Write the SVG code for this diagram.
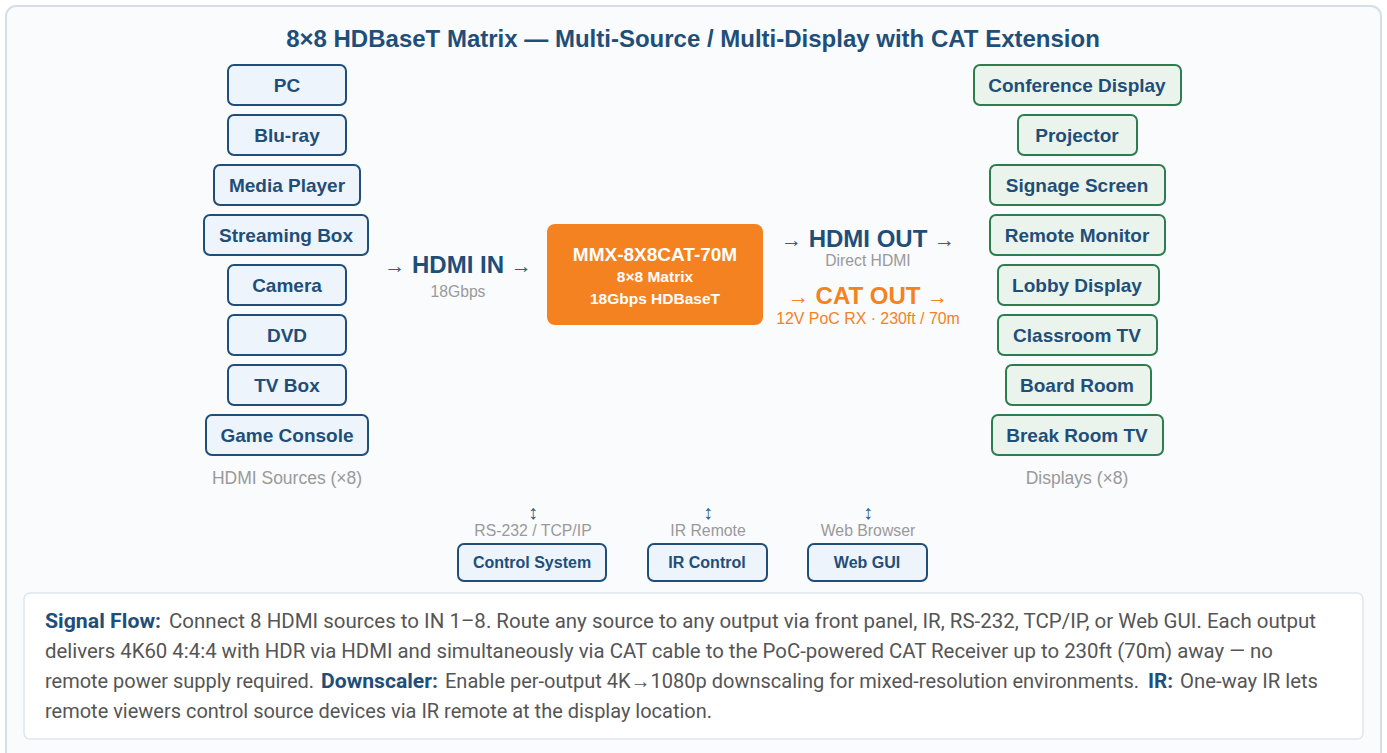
<svg xmlns="http://www.w3.org/2000/svg" width="1387" height="753" viewBox="0 0 1387 753">
<style>
.t{font-family:"Liberation Sans",Arial,sans-serif}
.src rect{fill:#eef4fb;stroke:#1f4e79;stroke-width:2}
.dst rect{fill:#eaf4ec;stroke:#2e7d4f;stroke-width:2}
.ctl rect{fill:#eef4fb;stroke:#1f4e79;stroke-width:2}
.nl{font-family:"Liberation Sans",Arial,sans-serif;font-weight:bold;font-size:19px;fill:#1f4e79;text-anchor:middle}
.cl{font-family:"Liberation Sans",Arial,sans-serif;font-weight:bold;font-size:16px;fill:#1f4e79;text-anchor:middle}
.gray{font-family:"Liberation Sans",Arial,sans-serif;fill:#999;text-anchor:middle}
.arr{font-family:"Liberation Sans",Arial,sans-serif;fill:#2f5f8c;text-anchor:middle}
.big{font-family:"Liberation Sans",Arial,sans-serif;font-size:24px;font-weight:bold;text-anchor:middle}
.ar{font-weight:normal;font-size:21px}
.body{font-family:Roboto,"Liberation Sans",sans-serif;font-size:20px;fill:#555}
.b{font-weight:bold;fill:#1f4e79}
</style>
<rect x="6" y="6" width="1375" height="770" rx="10" fill="#f9fbfd" stroke="#d6dfe7" stroke-width="2"/>
<text class="t" x="693" y="47" text-anchor="middle" font-size="24" font-weight="bold" fill="#1f4e79">8×8 HDBaseT Matrix — Multi-Source / Multi-Display with CAT Extension</text>

<g id="sources">
<g id="src-pc" class="src"><rect x="228" y="65" width="118" height="40" rx="6"/><text class="nl" x="287" y="92">PC</text></g>
<g id="src-bluray" class="src"><rect x="228" y="115" width="118" height="40" rx="6"/><text class="nl" x="287" y="142">Blu-ray</text></g>
<g id="src-media" class="src"><rect x="214" y="165" width="146" height="40" rx="6"/><text class="nl" x="287" y="192">Media Player</text></g>
<g id="src-stream" class="src"><rect x="204" y="215" width="164" height="40" rx="6"/><text class="nl" x="286" y="242">Streaming Box</text></g>
<g id="src-camera" class="src"><rect x="228" y="265" width="118" height="40" rx="6"/><text class="nl" x="287" y="292">Camera</text></g>
<g id="src-dvd" class="src"><rect x="228" y="315" width="118" height="40" rx="6"/><text class="nl" x="287" y="342">DVD</text></g>
<g id="src-tvbox" class="src"><rect x="228" y="365" width="118" height="40" rx="6"/><text class="nl" x="287" y="392">TV Box</text></g>
<g id="src-game" class="src"><rect x="206" y="415" width="162" height="40" rx="6"/><text class="nl" x="287" y="442">Game Console</text></g>
<text class="gray" x="287" y="484" font-size="17.5">HDMI Sources (×8)</text>
</g>

<g id="displays">
<g id="dst-conf" class="dst"><rect x="974" y="65" width="207" height="40" rx="6"/><text class="nl" x="1077" y="92">Conference Display</text></g>
<g id="dst-proj" class="dst"><rect x="1018" y="115" width="119" height="40" rx="6"/><text class="nl" x="1077" y="142">Projector</text></g>
<g id="dst-sign" class="dst"><rect x="990" y="165" width="175" height="40" rx="6"/><text class="nl" x="1077" y="192">Signage Screen</text></g>
<g id="dst-remote" class="dst"><rect x="990" y="215" width="175" height="40" rx="6"/><text class="nl" x="1077" y="242">Remote Monitor</text></g>
<g id="dst-lobby" class="dst"><rect x="998" y="265" width="161" height="40" rx="6"/><text class="nl" x="1077" y="292">Lobby Display</text></g>
<g id="dst-class" class="dst"><rect x="998" y="315" width="159" height="40" rx="6"/><text class="nl" x="1077" y="342">Classroom TV</text></g>
<g id="dst-board" class="dst"><rect x="1006" y="365" width="145" height="40" rx="6"/><text class="nl" x="1077" y="392">Board Room</text></g>
<g id="dst-break" class="dst"><rect x="992" y="415" width="171" height="40" rx="6"/><text class="nl" x="1077" y="442">Break Room TV</text></g>
<text class="gray" x="1077" y="484" font-size="17.5">Displays (×8)</text>
</g>

<g id="matrix">
<rect x="547" y="224" width="216" height="101" rx="8" fill="#f58220"/>
<text class="t" x="655" y="261" text-anchor="middle" font-size="19" font-weight="bold" fill="#fff">MMX-8X8CAT-70M</text>
<text class="t" x="655" y="282" text-anchor="middle" font-size="15.5" font-weight="bold" fill="#fff">8×8 Matrix</text>
<text class="t" x="655" y="304" text-anchor="middle" font-size="15.5" font-weight="bold" fill="#fff">18Gbps HDBaseT</text>
</g>

<g id="connectors">
<g id="hdmi-in">
<text class="big" x="458" y="273" fill="#1f4e79"><tspan class="ar" fill="#2f5f8c">→</tspan> HDMI IN <tspan class="ar" fill="#2f5f8c">→</tspan></text>
<text class="gray" x="458" y="297" font-size="15.7">18Gbps</text>
</g>
<g id="hdmi-out">
<text class="big" x="868" y="247" fill="#1f4e79"><tspan class="ar" fill="#2f5f8c">→</tspan> HDMI OUT <tspan class="ar" fill="#2f5f8c">→</tspan></text>
<text class="gray" x="868" y="266" font-size="15.7">Direct HDMI</text>
</g>
<g id="cat-out">
<text class="big" x="868" y="304" fill="#f58220"><tspan class="ar">→</tspan> CAT OUT <tspan class="ar">→</tspan></text>
<text class="t" x="868" y="324" text-anchor="middle" font-size="15.9" fill="#f58220">12V PoC RX · 230ft / 70m</text>
</g>
<g id="control-links">
<text class="arr" x="533" y="519" font-size="20">↕</text>
<text class="gray" x="533" y="536" font-size="15.8">RS-232 / TCP/IP</text>
<text class="arr" x="708" y="519" font-size="20">↕</text>
<text class="gray" x="708" y="536" font-size="15.8">IR Remote</text>
<text class="arr" x="868" y="519" font-size="20">↕</text>
<text class="gray" x="868" y="536" font-size="15.8">Web Browser</text>
</g>
</g>

<g id="control">
<g id="ctl-system" class="ctl"><rect x="458" y="544" width="148" height="37" rx="6"/><text class="cl" x="532" y="568">Control System</text></g>
<g id="ctl-ir" class="ctl"><rect x="648" y="544" width="119" height="37" rx="6"/><text class="cl" x="707" y="568">IR Control</text></g>
<g id="ctl-web" class="ctl"><rect x="808" y="544" width="119" height="37" rx="6"/><text class="cl" x="867" y="568">Web GUI</text></g>
</g>

<g id="info">
<rect x="24" y="593" width="1339" height="146" rx="6" fill="#fff" stroke="#dde6ee" stroke-width="1.5"/>
<text class="body b" x="45" y="628" textLength="116" lengthAdjust="spacingAndGlyphs">Signal Flow:</text>
<text class="body" x="169" y="628" textLength="1147" lengthAdjust="spacingAndGlyphs">Connect 8 HDMI sources to IN 1–8. Route any source to any output via front panel, IR, RS-232, TCP/IP, or Web GUI. Each output</text>
<text class="body" x="45" y="658" textLength="1228" lengthAdjust="spacingAndGlyphs">delivers 4K60 4:4:4 with HDR via HDMI and simultaneously via CAT cable to the PoC-powered CAT Receiver up to 230ft (70m) away — no</text>
<text class="body" x="45" y="688" textLength="269" lengthAdjust="spacingAndGlyphs">remote power supply required.</text>
<text class="body b" x="321" y="688" textLength="117" lengthAdjust="spacingAndGlyphs">Downscaler:</text>
<text class="body" x="445" y="688" textLength="694" lengthAdjust="spacingAndGlyphs">Enable per-output 4K→1080p downscaling for mixed-resolution environments.</text>
<text class="body b" x="1148" y="688" textLength="25" lengthAdjust="spacingAndGlyphs">IR:</text>
<text class="body" x="1180" y="688" textLength="138" lengthAdjust="spacingAndGlyphs">One-way IR lets</text>
<text class="body" x="45" y="718" textLength="667" lengthAdjust="spacingAndGlyphs">remote viewers control source devices via IR remote at the display location.</text>
</g>
</svg>
